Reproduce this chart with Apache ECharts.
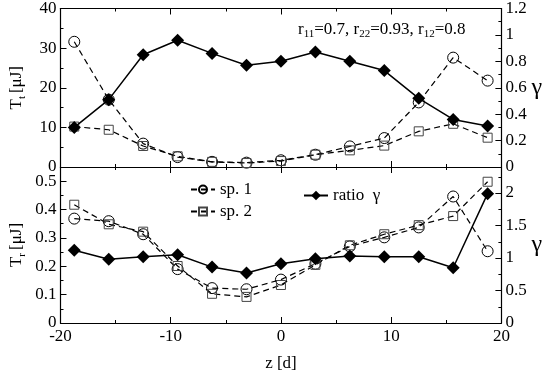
<!DOCTYPE html>
<html>
<head>
<meta charset="utf-8">
<script src="https://cdn.jsdelivr.net/npm/echarts@6/dist/echarts.min.js"></script>
<style>
  html, body { margin: 0; padding: 0; background: #fff; }
  #main { width: 545px; height: 373px; }
</style>
</head>
<body>
<div id="main"></div>
<script>
// positions along z [d]
const zVals = [-18.75, -15.625, -12.5, -9.375, -6.25, -3.125, 0, 3.125, 6.25, 9.375, 12.5, 15.625, 18.75]
// upper panel: T_t [uJ] and ratio gamma
const topSp1 = [31.6, 17.0, 5.9, 2.5, 1.3, 1.1, 1.7, 3.1, 5.2, 7.3, 16.3, 27.6, 21.8]
const topSp2 = [10.2, 9.4, 5.3, 2.7, 1.3, 1.0, 1.5, 3.1, 4.2, 5.4, 9.0, 10.9, 7.4]
const topRatio = [0.30, 0.51, 0.85, 0.96, 0.86, 0.77, 0.80, 0.87, 0.80, 0.73, 0.52, 0.36, 0.31]
// lower panel: T_r [uJ] and ratio gamma
const botSp1 = [0.368, 0.359, 0.313, 0.19, 0.123, 0.119, 0.153, 0.209, 0.27, 0.302, 0.337, 0.446, 0.253]
const botSp2 = [0.417, 0.348, 0.322, 0.201, 0.103, 0.092, 0.134, 0.205, 0.274, 0.313, 0.345, 0.377, 0.498]
const botRatio = [1.12, 0.98, 1.02, 1.05, 0.86, 0.77, 0.91, 0.99, 1.03, 1.02, 1.02, 0.85, 1.99]

const FONT = "'Liberation Serif', 'DejaVu Serif', serif"
const pairs = (ys) => zVals.map((z, i) => [z, ys[i]])

// common axis look: black frame, ticks pointing inwards
const tick = { inside: true, length: 6, lineStyle: { color: "#000" } }
const minor = { show: true, splitNumber: 2, length: 3, lineStyle: { color: "#000" } }
const line = { show: true, onZero: false, lineStyle: { color: "#000", width: 1.2 } }
const lbl = { color: "#000", fontFamily: FONT, fontSize: 17 }

function xAx(grid, pos, showLabels) {
  return {
    type: "value", gridIndex: grid, position: pos, min: -20, max: 20, interval: 10,
    axisLine: line, axisTick: tick, minorTick: minor, splitLine: { show: false },
    axisLabel: { show: showLabels, ...lbl, margin: 5 },
    name: showLabels ? "z [d]" : "", nameLocation: "middle", nameGap: 32,
    nameTextStyle: { color: "#000", fontFamily: FONT, fontSize: 17 },
  }
}

function yAx(grid, pos, min, max, interval) {
  return {
    type: "value", gridIndex: grid, position: pos, min: min, max: max, interval: interval,
    axisLine: line, axisTick: tick, minorTick: minor, splitLine: { show: false },
    axisLabel: { ...lbl, margin: 4, showMaxLabel: max === 40 || max === 1.2 },
    nameLocation: "middle", nameMoveOverlap: false,
  }
}

const leftName = (sub) => ({
  nameRotate: 90, nameGap: 33,
  name: "{a|T}{s|" + sub + "} {a|[μJ]}",
  nameTextStyle: {
    color: "#000", fontFamily: FONT,
    rich: {
      a: { fontFamily: FONT, fontSize: 17, color: "#000", lineHeight: 22 },
      s: { fontFamily: FONT, fontSize: 11, color: "#000", lineHeight: 22, verticalAlign: "bottom" },
    },
  },
})
const gammaName = {
  name: "γ", nameRotate: 0, nameGap: 30,
  nameTextStyle: { color: "#000", fontFamily: FONT, fontSize: 24 },
}

function sp1(name, xi, yi, data) {
  return {
    name: name, type: "line", xAxisIndex: xi, yAxisIndex: yi, data: data,
    symbol: "circle", symbolSize: 11,
    lineStyle: { color: "#000", width: 1.2, type: [6, 4] },
    itemStyle: { color: "rgba(255,255,255,0)", borderColor: "#000", borderWidth: 1 },
    emphasis: { disabled: true }, z: 3,
  }
}
function sp2(name, xi, yi, data) {
  return {
    name: name, type: "line", xAxisIndex: xi, yAxisIndex: yi, data: data,
    symbol: "rect", symbolSize: 9,
    lineStyle: { color: "#000", width: 1.2, type: [6, 4] },
    itemStyle: { color: "rgba(255,255,255,0)", borderColor: "#444", borderWidth: 1 },
    emphasis: { disabled: true }, z: 3,
  }
}
function ratio(name, xi, yi, data) {
  return {
    name: name, type: "line", xAxisIndex: xi, yAxisIndex: yi, data: data,
    symbol: "diamond", symbolSize: [13, 13],
    lineStyle: { color: "#000", width: 1.5 },
    itemStyle: { color: "#000" },
    emphasis: { disabled: true }, z: 4,
  }
}

var chart = echarts.init(document.getElementById("main"), null, { renderer: "canvas" })
chart.setOption({
  animation: false,
  backgroundColor: "#fff",
  grid: [
    { left: 47, right: 43, top: 7, height: 160 },
    { left: 47, right: 43, top: 167, height: 160 },
  ],
  xAxis: [
    xAx(0, "bottom", false),
    xAx(0, "top", false),
    xAx(1, "bottom", true),
    xAx(1, "top", false),
  ],
  yAxis: [
    { ...yAx(0, "left", 0, 40, 10), ...leftName("t") },
    { ...yAx(0, "right", 0, 1.2, 0.2), ...gammaName },
    { ...yAx(1, "left", 0, 0.55, 0.1), ...leftName("r") },
    { ...yAx(1, "right", 0, 2.4, 0.5), ...gammaName },
  ],
  legend: [
    {
      data: ["sp. 1", "sp. 2"], orient: "vertical", left: 185, top: 176,
      itemWidth: 24, itemHeight: 10, itemGap: 5,
      textStyle: { color: "#000", fontFamily: FONT, fontSize: 17 },
      selectedMode: false,
    },
    {
      data: ["ratio  γ"], left: 298, top: 182,
      itemWidth: 24, itemHeight: 12,
      textStyle: { color: "#000", fontFamily: FONT, fontSize: 17 },
      selectedMode: false,
    },
  ],
  graphic: [
    {
      type: "text", left: 298, top: 21,
      style: {
        text: "{a|r}{s|11}{a|=0.7, r}{s|22}{a|=0.93, r}{s|12}{a|=0.8}",
        rich: {
          a: { fontFamily: FONT, fontSize: 17, fill: "#000", lineHeight: 20 },
          s: { fontFamily: FONT, fontSize: 11, fill: "#000", lineHeight: 20, verticalAlign: "bottom" },
        },
      },
    },
  ],
  series: [
    sp1("sp. 1", 0, 0, pairs(topSp1)),
    sp2("sp. 2", 0, 0, pairs(topSp2)),
    ratio("ratio  γ", 0, 1, pairs(topRatio)),
    sp1("sp. 1", 2, 2, pairs(botSp1)),
    sp2("sp. 2", 2, 2, pairs(botSp2)),
    ratio("ratio  γ", 2, 3, pairs(botRatio)),
  ],
})
window.addEventListener("resize", () => {
  chart.resize()
})
</script>
</body>
</html>
